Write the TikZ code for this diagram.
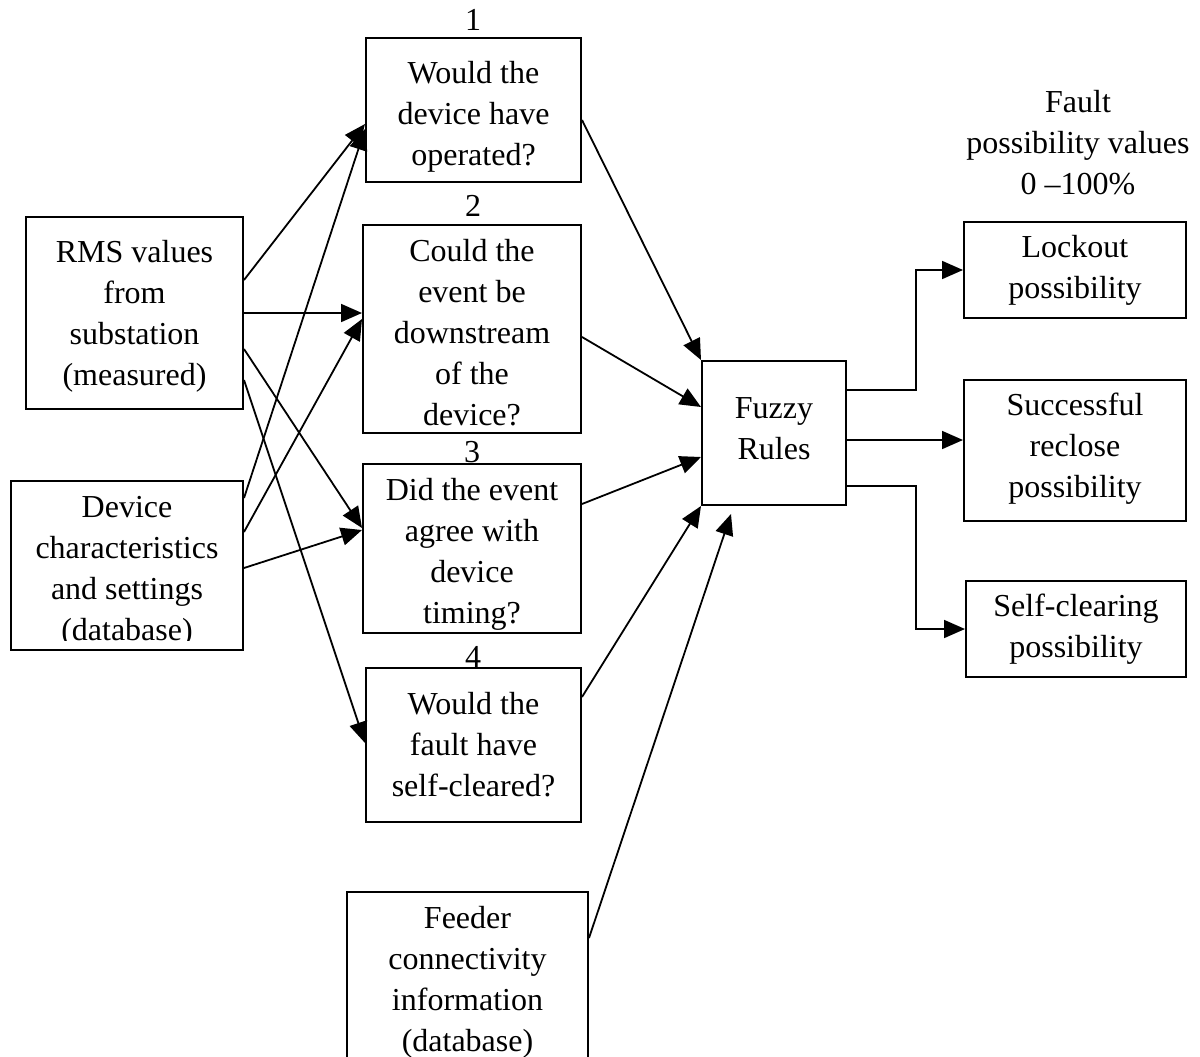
\documentclass[tikz,border=0pt]{standalone}
\usepackage{fontspec}
\setmainfont{Liberation Serif}
\usetikzlibrary{arrows.meta,calc}
\begin{document}
\begin{tikzpicture}[x=1pt,y=-1pt,
  box/.style={draw, line width=2pt, inner sep=0pt},
  lbl/.style={inner sep=0pt, align=center, font=\fontsize{32}{41}\selectfont},
  conn/.style={line width=1.8pt, -{Triangle[length=21pt,width=18pt]}}]
\useasboundingbox (0,0) rectangle (1200,1057);

% input boxes
\node[box, minimum width=217pt, minimum height=192pt] (rms) at (134.5,313) {};
\node[lbl] (rmst) at ($(rms.center)+(0,3)$) {RMS values\\from\\substation\\(measured)};
\node[box, minimum width=232pt, minimum height=169pt] (device) at (127,565.5) {};
\begin{scope}
  \clip (device.north west) rectangle ([yshift=11pt]device.south east);
  \node[lbl] (devicet) at ($(device.center)+(0,6)$) {Device\\characteristics\\and settings\\(database)};
\end{scope}
\node[box, minimum width=241pt, minimum height=176pt] (feeder) at (467.5,980) {};
\node[lbl] (feedert) at ($(feeder.center)+(0,2)$) {Feeder\\connectivity\\information\\(database)};

% question boxes
\node[box, minimum width=215pt, minimum height=144pt] (box1) at (473.5,110) {};
\node[lbl] (box1t) at ($(box1.center)+(0,7)$) {Would the\\device have\\operated?};
\node[box, minimum width=218pt, minimum height=208pt] (box2) at (472,329) {};
\node[lbl] (box2t) at ($(box2.center)+(0,4)$) {Could the\\event be\\downstream\\of the\\device?};
\node[box, minimum width=218pt, minimum height=169pt] (box3) at (472,548.5) {};
\node[lbl] (box3t) at ($(box3.center)+(0,6)$) {Did the event\\agree with\\device\\timing?};
\node[box, minimum width=215pt, minimum height=154pt] (box4) at (473.5,745) {};
\node[lbl] (box4t) at (box4.center) {Would the\\fault have\\self-cleared?};

\node[lbl] (n1) at (473,20) {1};
\node[lbl] (n2) at (473,206) {2};
\node[lbl] (n3) at (472,452) {3};
\node[lbl] (n4) at (473,657) {4};

% fuzzy rules
\node[box, minimum width=144pt, minimum height=144pt] (fuzzy) at (774,433) {};
\node[lbl] (fuzzyt) at ($(fuzzy.center)+(0,-4)$) {Fuzzy\\Rules};

% outputs
\node[lbl] (hdr) at (1078,143) {Fault\\possibility values\\0 –100\%};
\node[box, minimum width=222pt, minimum height=96pt] (lockout) at (1075,270) {};
\node[lbl] (lockoutt) at (lockout.center) {Lockout\\possibility};
\node[box, minimum width=222pt, minimum height=141pt] (success) at (1075,450.5) {};
\node[lbl] (successt) at ($(success.center)+(0,-2)$) {Successful\\reclose\\possibility};
\node[box, minimum width=220pt, minimum height=96pt] (selfclear) at (1076,629) {};
\node[lbl] (selfcleart) at (selfclear.center) {Self-clearing\\possibility};

\coordinate (bend) at (916,0);

% RMS connectors
\draw[conn] (rms.east |- 0,280) -- (box1.west |- 0,124);
\draw[conn] (rms.east |- 0,313) -- (box2.west |- 0,313);
\draw[conn] (rms.east |- 0,349) -- (box3.west |- 0,528);
\draw[conn] (rms.east |- 0,380) -- (box4.west |- 0,743);

% device connectors
\draw[conn] (device.east |- 0,498) -- (box1.west |- 0,129);
\draw[conn] (device.east |- 0,532) -- (box2.west |- 0,319);
\draw[conn] (device.east |- 0,568) -- (box3.west |- 0,530);

% to fuzzy rules
\draw[conn] (box1.east |- 0,120) -- (fuzzy.north west);
\draw[conn] (box2.east |- 0,337) -- (fuzzy.west |- 0,407);
\draw[conn] (box3.east |- 0,504) -- (fuzzy.west |- 0,457);
\draw[conn] (box4.east |- 0,697) -- (fuzzy.south west);
\draw[conn] (feeder.east |- 0,938) -- ($(fuzzy.south west)+(30,8)$);

% outputs
\draw[conn] (fuzzy.east |- 0,390) -| (bend |- lockout.west) -- (lockout.west);
\draw[conn] (fuzzy.east |- 0,440) -- (success.west |- 0,440);
\draw[conn] (fuzzy.east |- 0,486) -| (bend |- selfclear.west) -- (selfclear.west);
\end{tikzpicture}
\end{document}
